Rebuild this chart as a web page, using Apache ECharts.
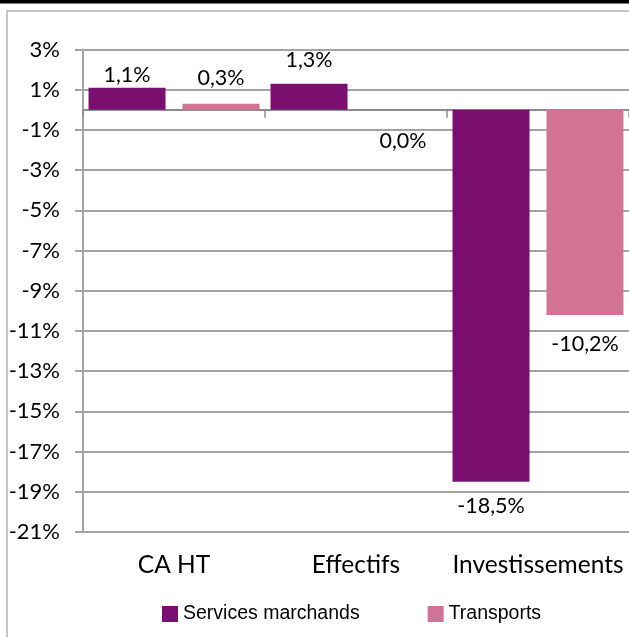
<!DOCTYPE html>
<html>
<head>
<meta charset="utf-8">
<script src="https://cdn.jsdelivr.net/npm/echarts@6/dist/echarts.min.js"></script>
<style>
html,body{margin:0;padding:0;background:#fff;}
#chart{width:629px;height:637px;}
</style>
</head>
<body>
<div id="chart"></div>
<script>
// ---- data ----
var categories = ['CA HT', 'Effectifs', 'Investissements'];
var seriesNames = ['Services marchands', 'Transports'];
var servicesValues = [1.1, 1.3, -18.5];
var transportsValues = [0.3, 0.0, -10.2];
var yTickLabels = ['-21%', '-19%', '-17%', '-15%', '-13%', '-11%', '-9%', '-7%', '-5%', '-3%', '-1%', '1%', '3%'];
var yMin = -21, yMax = 3;

// ---- styles ----
var colors = ['#7B0F70', '#D27396'];
var labelDistances = [[2, 13, 13], [15, 20, 18]];
var labelFont = 'Lato, "Open Sans", sans-serif';

function fmt(v) { return v.toFixed(1).replace('.', ',') + '%'; }

function buildData(values, dists) {
  return values.map(function (v, i) {
    return {
      value: v,
      label: { position: v > 0 ? 'top' : 'bottom', distance: dists[i] }
    };
  });
}

var chart = echarts.init(document.getElementById('chart'), null, { renderer: 'canvas' });
var gridColor = '#a3a3a3';

var option = {
  animation: false,
  backgroundColor: '#fff',
  graphic: [
    { type: 'rect', z: -10, shape: { x: 0, y: 0, width: 629, height: 3.5 }, style: { fill: '#000' } },
    { type: 'rect', z: -10, shape: { x: 7, y: 11, width: 640, height: 640 }, style: { fill: 'none', stroke: '#b4b4b4', lineWidth: 1.5 } }
  ],
  grid: { left: 83, right: -3, top: 49.5, bottom: 105 },
  legend: {
    left: 157, top: 599,
    itemWidth: 16, itemHeight: 16, itemGap: 68,
    icon: 'rect',
    textStyle: { fontFamily: '"Liberation Sans", Arial, sans-serif', fontSize: 19.5, color: '#000' },
    data: seriesNames
  },
  xAxis: [
    {
      type: 'category', data: categories, position: 'bottom',
      axisLine: { show: true, onZero: true, lineStyle: { color: '#8c8c8c', width: 2 } },
      axisTick: { show: true, length: 8, alignWithLabel: false, lineStyle: { color: '#8c8c8c', width: 1.5 } },
      axisLabel: { show: false },
      splitLine: { show: false }
    },
    {
      type: 'category', data: categories, position: 'bottom',
      axisLine: { show: false, onZero: false },
      axisTick: { show: false },
      axisLabel: { show: true, margin: 21, fontFamily: labelFont, fontSize: 24.5, color: '#000', interval: 0 },
      splitLine: { show: false }
    }
  ],
  yAxis: [
    {
      type: 'category', data: yTickLabels, boundaryGap: false, position: 'left',
      axisLine: { show: true, onZero: false, lineStyle: { color: gridColor, width: 2 } },
      axisTick: { show: true, length: 8, interval: 0, lineStyle: { color: gridColor, width: 2 } },
      axisLabel: { show: true, interval: 0, margin: 23, fontFamily: labelFont, fontSize: 22, color: '#000' },
      splitLine: { show: true, interval: 0, lineStyle: { color: gridColor, width: 2 } }
    },
    {
      type: 'value', min: yMin, max: yMax, show: false, position: 'left',
      splitLine: { show: false }
    }
  ],
  series: [
    {
      name: seriesNames[0], type: 'bar', xAxisIndex: 0, yAxisIndex: 1,
      barWidth: 77, barGap: '22%',
      itemStyle: { color: colors[0] },
      label: { show: true, fontFamily: labelFont, fontSize: 21.5, color: '#000', formatter: function (p) { return fmt(p.value); } },
      data: buildData(servicesValues, labelDistances[0])
    },
    {
      name: seriesNames[1], type: 'bar', xAxisIndex: 0, yAxisIndex: 1,
      barWidth: 77, barGap: '22%',
      itemStyle: { color: colors[1] },
      label: { show: true, fontFamily: labelFont, fontSize: 21.5, color: '#000', formatter: function (p) { return fmt(p.value); } },
      data: buildData(transportsValues, labelDistances[1])
    }
  ]
};
chart.setOption(option);
</script>
</body>
</html>
